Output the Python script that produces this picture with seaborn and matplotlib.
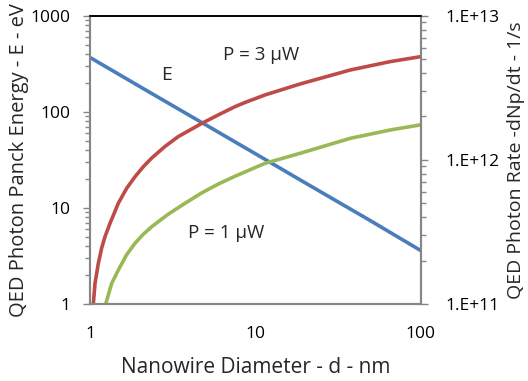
import numpy as np
import seaborn as sns
import matplotlib.pyplot as plt
from matplotlib.ticker import FixedLocator, LogLocator, NullFormatter

# Values
diam_e = [1, 2, 5, 10, 20, 50, 100]
energy = [365, 182, 73, 36.5, 18.2, 7.3, 3.6]

diam_3uw = [1.04, 1.065, 1.115, 1.169, 1.224, 1.313, 1.474, 1.656, 1.861, 2.09, 2.35, 2.83,
            3.40, 4.72, 5.94, 7.51, 8.62, 11.4, 18.6, 37.4, 65.2, 100]
rate_3uw = [1.0e11, 1.39e11, 1.91e11, 2.45e11, 2.93e11, 3.63e11, 5.0e11, 6.35e11, 7.64e11,
            8.97e11, 1.03e12, 1.24e12, 1.45e12, 1.79e12, 2.05e12, 2.34e12, 2.5e12, 2.82e12,
            3.36e12, 4.2e12, 4.8e12, 5.2e12]

diam_1uw = [1.236, 1.344, 1.474, 1.656, 1.861, 2.09, 2.35, 2.96, 3.74, 4.72, 5.95, 7.51,
            11.4, 18.6, 37.4, 65.2, 100]
rate_1uw = [1.0e11, 1.39e11, 1.72e11, 2.2e11, 2.64e11, 3.05e11, 3.44e11, 4.2e11, 5.0e11,
            5.9e11, 6.8e11, 7.7e11, 9.46e11, 1.11e12, 1.41e12, 1.61e12, 1.75e12]

left_ticks = [1, 10, 100, 1000]
right_ticks = [1e11, 1e12, 1e13]
right_labels = ["1.E+11", "1.E+12", "1.E+13"]
x_ticks = [1, 10, 100]

sns.set_theme(style="white")
plt.rcParams['font.family'] = ['Open Sans', 'DejaVu Sans']

blue, red, green = "#4A7EBB", "#BE4B48", "#98B954"
grey = "#868686"

fig = plt.figure(figsize=(5.28, 3.81), dpi=100)
ax = fig.add_axes([0.1714, 0.2021, 0.6254, 0.7567])
ax2 = ax.twinx()

sns.lineplot(x=diam_e, y=energy, ax=ax, color=blue, lw=2.6)
sns.lineplot(x=diam_3uw, y=rate_3uw, ax=ax2, color=red, lw=2.6)
sns.lineplot(x=diam_1uw, y=rate_1uw, ax=ax2, color=green, lw=2.6)

for a in (ax, ax2):
    a.set_xscale("log")
    a.set_yscale("log")
    a.set_xlim(1, 100)
    for s in a.spines.values():
        s.set_color(grey)
        s.set_linewidth(1.5)
    a.spines["top"].set_color("black")
    a.spines["top"].set_linewidth(1.2)
    a.tick_params(which="both", direction="out", color=grey, width=1, labelsize=12.5,
                  labelcolor="black")
    a.tick_params(which="major", length=5)
    a.tick_params(which="minor", length=3.5)

ax.set_ylim(1, 1000)
ax2.set_ylim(1e11, 1e13)

ax.xaxis.set_major_locator(FixedLocator(x_ticks))
ax.set_xticklabels([str(t) for t in x_ticks])
ax.xaxis.set_minor_locator(LogLocator(base=10, subs=np.arange(2, 10)))
ax.xaxis.set_minor_formatter(NullFormatter())
ax.tick_params(axis="x", pad=11)

ax.yaxis.set_major_locator(FixedLocator(left_ticks))
ax.set_yticklabels([str(t) for t in left_ticks])
ax.yaxis.set_minor_locator(LogLocator(base=10, subs=np.arange(2, 10)))
ax.yaxis.set_minor_formatter(NullFormatter())
ax.tick_params(axis="y", pad=9.5)

ax2.yaxis.set_major_locator(FixedLocator(right_ticks))
ax2.set_yticklabels(right_labels)
ax2.yaxis.set_minor_locator(LogLocator(base=10, subs=np.arange(2, 10)))
ax2.yaxis.set_minor_formatter(NullFormatter())
ax2.tick_params(axis="y", pad=13)

ax.set_xlabel("Nanowire Diameter - d - nm", fontsize=15, labelpad=11)
ax.set_ylabel("QED Photon Panck Energy - E - eV", fontsize=14.5, labelpad=1)
ax2.set_ylabel("QED Photon Rate -dNp/dt - 1/s", fontsize=14, labelpad=5)

ax.text(2.89, 241, "E", fontsize=14, ha="center", va="center")
ax.text(10.8, 390, "P = 3 μW", fontsize=13.5, ha="center", va="center")
ax.text(6.62, 5.48, "P = 1 μW", fontsize=13.5, ha="center", va="center")

fig.savefig("out.png", dpi=100)
